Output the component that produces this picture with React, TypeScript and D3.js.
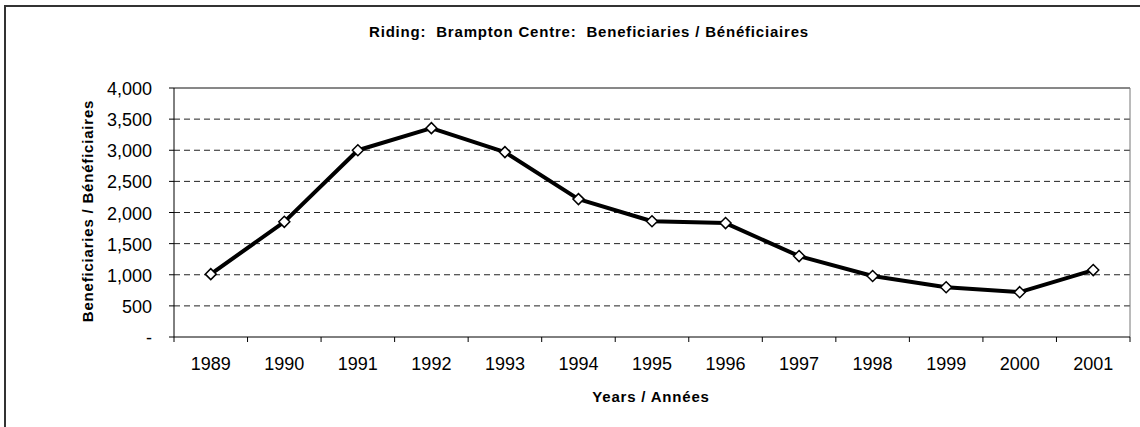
import * as d3 from "d3";

const years = ["1989", "1990", "1991", "1992", "1993", "1994", "1995", "1996", "1997", "1998", "1999", "2000", "2001"];
const beneficiaries = [1010, 1850, 3000, 3355, 2970, 2215, 1860, 1830, 1300, 980, 800, 720, 1075];
const yTicks = [0, 500, 1000, 1500, 2000, 2500, 3000, 3500, 4000];

const title = "Riding:  Brampton Centre:  Beneficiaries / Bénéficiaires";
const xTitle = "Years / Années";
const yTitle = "Beneficiaries / Bénéficiaires";

export default function App() {
  const width = 1140;
  const height = 427;
  const left = 174;
  const right = 1130;
  const top = 88;
  const bottom = 337;
  const narrow = "'Liberation Sans Narrow', 'Arial Narrow', Arial, sans-serif";
  const sans = "Arial, 'Liberation Sans', sans-serif";

  const x = d3.scaleBand(years, [left, right]);
  const y = d3.scaleLinear([0, 4000], [bottom, top]);
  const fmt = d3.format(",");
  const line = d3.line<number>((d, i) => x(years[i])! + x.bandwidth() / 2, (d) => y(d));
  const r = 5.5;
  const boldStyle = { letterSpacing: "0.8px" };

  return (
    <svg width={width} height={height} style={{ position: "absolute", left: 0, top: 0, background: "#fff" }}>
      <rect x={5} y={6} width={1150} height={440} fill="white" stroke="#333" strokeWidth={2} />
      <text x={589} y={37} textAnchor="middle" fontFamily={narrow} fontWeight="bold" fontSize={15} style={boldStyle}>
        {title.replace(/ /g, "\u00a0")}
      </text>

      {/* gridlines */}
      {yTicks.filter((t) => t > 0 && t < 4000).map((t) => (
        <line key={t} x1={left} x2={right} y1={y(t)} y2={y(t)} stroke="#222" strokeWidth={1} strokeDasharray="6,4" />
      ))}
      <line x1={left} x2={right} y1={top} y2={top} stroke="#111" strokeWidth={1} />
      <line x1={right} x2={right} y1={top} y2={bottom} stroke="#777" strokeWidth={1} />

      {/* y axis */}
      <line x1={left} x2={left} y1={top} y2={bottom} stroke="#000" strokeWidth={1} />
      {yTicks.map((t) => (
        <g key={t}>
          <line x1={left - 5} x2={left} y1={y(t)} y2={y(t)} stroke="#000" />
          <text x={152} y={y(t) + 7} textAnchor="end" fontFamily={sans} fontSize={18}>
            {t === 0 ? "-" : fmt(t)}
          </text>
        </g>
      ))}
      <text
        transform={`translate(93,${211}) rotate(-90)`}
        textAnchor="middle"
        fontFamily={narrow}
        fontWeight="bold"
        fontSize={15}
        style={boldStyle}
      >
        {yTitle}
      </text>

      {/* x axis */}
      <line x1={left} x2={right} y1={bottom} y2={bottom} stroke="#000" strokeWidth={1} />
      {[...years.map((yr) => x(yr)!), right].map((px, i) => (
        <line key={i} x1={px} x2={px} y1={bottom} y2={bottom + 5} stroke="#000" />
      ))}
      {years.map((yr) => (
        <text key={yr} x={x(yr)! + x.bandwidth() / 2} y={370} textAnchor="middle" fontFamily={sans} fontSize={18}>
          {yr}
        </text>
      ))}
      <text x={651} y={402} textAnchor="middle" fontFamily={narrow} fontWeight="bold" fontSize={15} style={boldStyle}>
        {xTitle}
      </text>

      {/* series */}
      <path d={line(beneficiaries)!} fill="none" stroke="#000" strokeWidth={4} strokeLinejoin="round" />
      {beneficiaries.map((v, i) => {
        const cx = x(years[i])! + x.bandwidth() / 2;
        const cy = y(v);
        return (
          <path
            key={i}
            d={`M${cx},${cy - r}L${cx + r},${cy}L${cx},${cy + r}L${cx - r},${cy}Z`}
            fill="white"
            stroke="#000"
            strokeWidth={1.5}
          />
        );
      })}
    </svg>
  );
}
